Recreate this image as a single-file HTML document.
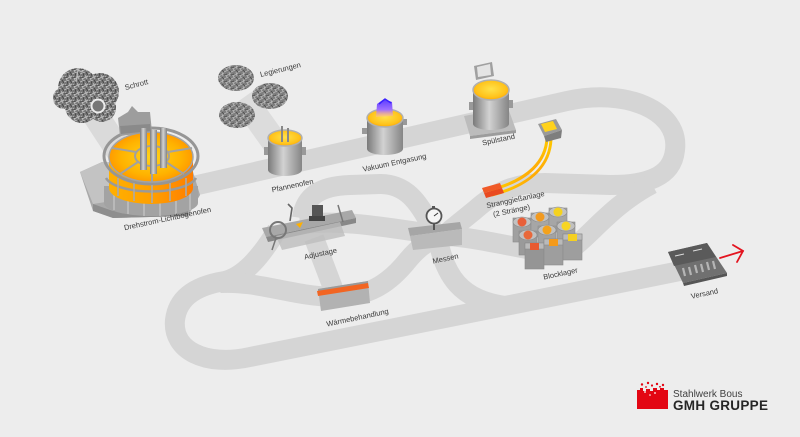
<!DOCTYPE html>
<html>
<head>
<meta charset="utf-8">
<style>
  html,body{margin:0;padding:0;background:#ededed;}
  svg{display:block;}
  .lbl{font-family:"Liberation Sans",sans-serif;font-size:7.5px;fill:#3a3a3a;text-anchor:middle;}
</style>
</head>
<body>
<svg width="800" height="437" viewBox="0 0 800 437" xmlns="http://www.w3.org/2000/svg">
  <defs>
    <pattern id="scrap" width="8" height="8" patternUnits="userSpaceOnUse">
      <rect width="8" height="8" fill="#787878"/>
      <path d="M0 2 L5 0 M2 7 L8 4 M1 4 L3 8 M5 3 L7 7" stroke="#c4c4c4" stroke-width="0.8"/>
      <path d="M0 6 L4 5 M6 0 L8 3 M3 1 L4 4" stroke="#404040" stroke-width="0.8"/>
    </pattern>
    <pattern id="scrap2" width="7" height="7" patternUnits="userSpaceOnUse">
      <rect width="7" height="7" fill="#7e7e7e"/>
      <path d="M0 2 L4 0 M2 6 L7 3 M1 4 L3 7 M5 2 L6 6" stroke="#bdbdbd" stroke-width="0.7"/>
      <path d="M0 5 L3 4 M5 0 L7 2" stroke="#444" stroke-width="0.7"/>
    </pattern>
    <linearGradient id="steel" x1="0" x2="1" y1="0" y2="0">
      <stop offset="0" stop-color="#7a7a7a"/>
      <stop offset="0.45" stop-color="#d2d2d2"/>
      <stop offset="1" stop-color="#858585"/>
    </linearGradient>
    <radialGradient id="melt" cx="0.5" cy="0.45" r="0.6">
      <stop offset="0" stop-color="#ffe24a"/>
      <stop offset="0.7" stop-color="#ffc21a"/>
      <stop offset="1" stop-color="#ff9e00"/>
    </radialGradient>
    <radialGradient id="furnTop" cx="0.5" cy="0.5" r="0.6">
      <stop offset="0" stop-color="#ffd21c"/>
      <stop offset="0.6" stop-color="#ffb300"/>
      <stop offset="1" stop-color="#ff8a00"/>
    </radialGradient>
    <linearGradient id="furnSide" x1="0" x2="1">
      <stop offset="0" stop-color="#ffb000"/>
      <stop offset="0.5" stop-color="#ffa000"/>
      <stop offset="1" stop-color="#ff7e00"/>
    </linearGradient>
    <linearGradient id="stream" x1="0" y1="0" x2="1" y2="1">
      <stop offset="0" stop-color="#ffe600"/>
      <stop offset="0.6" stop-color="#ffc000"/>
      <stop offset="1" stop-color="#ff5a20"/>
    </linearGradient>
    <linearGradient id="vac" x1="0" y1="0" x2="0" y2="1">
      <stop offset="0" stop-color="#5a3cff"/>
      <stop offset="0.6" stop-color="#a070ff"/>
      <stop offset="1" stop-color="#ffb0c0" stop-opacity="0.3"/>
    </linearGradient>
  </defs>

  <rect width="800" height="437" fill="#ededed"/>

  <!-- feeder shadow bands -->
  <path d="M92 110 L130 168" stroke="#dadada" stroke-width="26" fill="none"/>
  <path d="M243 98 L280 150" stroke="#dcdcdc" stroke-width="26" fill="none"/>

  <!-- tracks -->
  <g stroke="#d5d5d5" stroke-width="20" fill="none">
    <path d="M180 189 L567 101 C625 88 680 110 675 150 C672 178 645 185 610 185 L545 183 C515 183 495 192 475 210 L438 240"/>
    <path d="M570 250 C590 236 612 205 652 184"/>
    <path d="M438 235 C470 237 500 244 532 250"/>
    <path d="M438 240 C445 275 460 300 505 306"/>
    <path d="M685 270 L250 357 C205 367 172 350 175 320 C178 295 200 285 225 281 C245 276 262 255 277 230"/>
    <path d="M220 283 C260 281 290 296 335 297 C372 297 392 280 408 260 C418 248 428 240 440 237"/>
    <path d="M300 224 C350 219 392 229 440 235"/>
    <path d="M302 218 C305 196 320 186 350 185 L380 184 C405 184 418 200 432 228"/>
    <path d="M314 238 L336 296"/>
  </g>

  <!-- Schrott pile -->
  <g fill="url(#scrap)">
    <circle cx="78" cy="88" r="20"/>
    <circle cx="100" cy="92" r="19"/>
    <circle cx="82" cy="106" r="17"/>
    <circle cx="102" cy="108" r="14"/>
    <circle cx="64" cy="98" r="11"/>
  </g>
  <path d="M76 82 L78 70 L82 72" stroke="#bbb" stroke-width="1.2" fill="none"/>
  <circle cx="98" cy="106" r="6.5" fill="#777" stroke="#ececec" stroke-width="2"/>

  <!-- Legierungen piles -->
  <g fill="url(#scrap2)">
    <ellipse cx="236" cy="78" rx="18" ry="13"/>
    <ellipse cx="270" cy="96" rx="18" ry="13"/>
    <ellipse cx="237" cy="115" rx="18" ry="13"/>
  </g>

  <!-- Furnace -->
  <g>
    <polygon points="80,172 102,162 190,162 200,195 188,216 113,218 93,211" fill="#a9a9a9"/>
    <polygon points="80,172 102,162 118,162 118,200 93,204" fill="#c3c3c3"/>
    <polygon points="93,204 93,211 113,218 188,216 188,209 113,211" fill="#8e8e8e"/>
    <path d="M104 186 L104 203 A47 13 0 0 0 198 203 L198 186 Z" fill="#a3a3a3"/>
    <g stroke="#cfcfcf" stroke-width="1">
      <line x1="114" y1="192" x2="114" y2="210"/><line x1="128" y1="195" x2="128" y2="214"/>
      <line x1="144" y1="196" x2="144" y2="216"/><line x1="160" y1="196" x2="160" y2="216"/>
      <line x1="176" y1="195" x2="176" y2="214"/><line x1="190" y1="192" x2="190" y2="210"/>
    </g>
    <path d="M109 157 L109 188 A42 16 0 0 0 193 188 L193 157 Z" fill="url(#furnSide)"/>
    <ellipse cx="151" cy="157" rx="42" ry="25" fill="url(#furnTop)"/>
    <ellipse cx="151" cy="156" rx="47" ry="28" fill="none" stroke="#969696" stroke-width="3"/>
    <ellipse cx="151" cy="157" rx="42" ry="25" fill="none" stroke="#a4a4a4" stroke-width="1.5"/>
    <ellipse cx="152" cy="156" rx="17" ry="10" fill="none" stroke="#a0a0a0" stroke-width="2"/>
    <g stroke="#a2a2a2" stroke-width="2">
      <line x1="152" y1="166" x2="152" y2="182"/>
      <line x1="138" y1="162" x2="120" y2="174"/>
      <line x1="166" y1="162" x2="184" y2="174"/>
      <line x1="136" y1="152" x2="112" y2="148"/>
      <line x1="168" y1="152" x2="192" y2="148"/>
    </g>
    <path d="M106 178 A46 17 0 0 0 196 178" fill="none" stroke="#9a9a9a" stroke-width="2.5"/>
    <g stroke="#aaaaaa" stroke-width="1.6">
      <line x1="118" y1="178" x2="118" y2="196"/><line x1="134" y1="183" x2="134" y2="201"/>
      <line x1="152" y1="185" x2="152" y2="203"/><line x1="170" y1="183" x2="170" y2="201"/>
      <line x1="186" y1="178" x2="186" y2="196"/>
    </g>
    <polygon points="118,118 128,112 132,106 138,112 150,112 152,132 120,136" fill="#9d9d9d"/>
    <polygon points="120,126 150,124 151,131 121,134" fill="#8a8a8a"/>
    <rect x="140" y="128" width="7" height="42" fill="url(#steel)"/>
    <rect x="150" y="130" width="7" height="44" fill="url(#steel)"/>
    <rect x="160" y="128" width="7" height="40" fill="url(#steel)"/>
  </g>

  <!-- Pfannenofen ladle -->
  <g>
    <rect x="264" y="147" width="4" height="8" fill="#999"/>
    <rect x="302" y="147" width="4" height="8" fill="#999"/>
    <path d="M268 138 L268 170 A17 6 0 0 0 302 170 L302 138 Z" fill="url(#steel)"/>
    <ellipse cx="285" cy="138" rx="17" ry="8" fill="url(#melt)" stroke="#b0b0b0" stroke-width="1.5"/>
    <line x1="282" y1="126" x2="282" y2="142" stroke="#888" stroke-width="2"/>
    <line x1="288" y1="128" x2="288" y2="142" stroke="#888" stroke-width="2"/>
  </g>

  <!-- Vakuum Entgasung ladle -->
  <g>
    <rect x="362" y="128" width="5" height="6" fill="#999"/>
    <rect x="402" y="119" width="5" height="6" fill="#999"/>
    <path d="M367 118 L367 149 A18 6 0 0 0 403 149 L403 118 Z" fill="url(#steel)"/>
    <ellipse cx="385" cy="118" rx="18" ry="9" fill="url(#melt)" stroke="#b0b0b0" stroke-width="1.5"/>
    <path d="M376 117 L377 104 L384 99 L392 102 L393 116 Z" fill="url(#vac)"/>
    <path d="M379 104 L385 99 L391 103" stroke="#3a20ff" stroke-width="1.5" fill="none"/>
  </g>

  <!-- Spülstand -->
  <g>
    <polygon points="464,116 508,108 516,130 470,136" fill="#bcbcbc"/>
    <polygon points="470,136 516,130 516,133 470,139" fill="#9c9c9c"/>
    <rect x="469" y="102" width="4" height="8" fill="#999"/>
    <rect x="509" y="100" width="4" height="8" fill="#999"/>
    <path d="M473 90 L473 124 A18 6 0 0 0 509 124 L509 90 Z" fill="url(#steel)"/>
    <ellipse cx="491" cy="90" rx="18" ry="10" fill="url(#melt)" stroke="#b0b0b0" stroke-width="1.5"/>
    <polygon points="474,66 492,62 494,76 476,80" fill="#a0a0a0"/>
    <polygon points="477,67 490,64 491,75 478,77" fill="#e4e4e4"/>
  </g>

  <!-- Stranggießanlage -->
  <g>
    <path d="M547 138 C546 160 530 180 490 190" stroke="url(#stream)" stroke-width="3" fill="none"/>
    <path d="M551 139 C550 163 534 184 492 195" stroke="url(#stream)" stroke-width="3" fill="none"/>
    <polygon points="482,188 500,183 502,188 484,193" fill="#f05a28"/>
    <polygon points="484,193 502,188 504,193 486,198" fill="#e94a20"/>
    <polygon points="538,124 556,119 562,130 544,136" fill="#9a9a9a"/>
    <polygon points="541,124 553,121 557,129 545,132" fill="#ffd21c"/>
    <polygon points="544,136 562,130 561,138 546,142" fill="#7e7e7e"/>
  </g>

  <!-- Adjustage -->
  <g>
    <polygon points="262,228 352,210 356,218 266,237" fill="#a8a8a8"/>
    <polygon points="266,237 356,218 356,223 268,242" fill="#888"/>
    <polygon points="276,236 340,222 345,236 282,250" fill="#bdbdbd" opacity="0.8"/>
    <circle cx="278" cy="230" r="8" fill="none" stroke="#777" stroke-width="2"/>
    <line x1="276" y1="238" x2="272" y2="250" stroke="#777" stroke-width="1.5"/>
    <path d="M290 221 L292 208 L288 204" stroke="#666" stroke-width="1.6" fill="none"/>
    <rect x="312" y="205" width="11" height="16" fill="#555"/>
    <rect x="309" y="216" width="16" height="5" fill="#444"/>
    <polygon points="296,224 303,222 300,228" fill="#ffb000"/>
    <line x1="338" y1="205" x2="343" y2="222" stroke="#777" stroke-width="1.5"/>
  </g>

  <!-- Messen -->
  <g>
    <polygon points="408,228 460,222 462,229 410,236" fill="#a6a6a6"/>
    <polygon points="410,236 462,229 462,245 413,250" fill="#bababa"/>
    <line x1="434" y1="224" x2="434" y2="230" stroke="#555" stroke-width="2"/>
    <circle cx="434" cy="216" r="7.5" fill="#f5f5f5" stroke="#555" stroke-width="1.8"/>
    <line x1="434" y1="216" x2="438" y2="213" stroke="#333" stroke-width="1"/>
    <rect x="432" y="206" width="3" height="3" fill="#555"/>
  </g>

  <!-- Wärmebehandlung -->
  <g>
    <polygon points="318,289 368,281 370,303 321,311" fill="#b2b2b2"/>
    <polygon points="318,289 368,281 368,284 318,292" fill="#9a9a9a"/>
    <polygon points="317,291 368,283 369,288 318,296" fill="#f26522"/>
  </g>

  <!-- Blocklager -->
  <g stroke="#8a8a8a" stroke-width="0.6">
    <!-- row 1 -->
    <rect x="513" y="218" width="18" height="24" fill="#a0a0a0"/><ellipse cx="522" cy="222" rx="9" ry="5" fill="#c2c2c2"/><circle cx="522" cy="222" r="4.5" fill="#e8603a" stroke="none"/>
    <rect x="531" y="213" width="18" height="24" fill="#a6a6a6"/><ellipse cx="540" cy="217" rx="9" ry="5" fill="#c2c2c2"/><circle cx="540" cy="217" r="4.5" fill="#f29a1f" stroke="none"/>
    <rect x="549" y="208" width="18" height="24" fill="#a6a6a6"/><ellipse cx="558" cy="212" rx="9" ry="5" fill="#c2c2c2"/><circle cx="558" cy="212" r="4.5" fill="#f5d21e" stroke="none"/>
    <!-- row 2 -->
    <rect x="519" y="231" width="18" height="24" fill="#9a9a9a"/><ellipse cx="528" cy="235" rx="9" ry="5" fill="#c0c0c0"/><circle cx="528" cy="235" r="4.5" fill="#e8683a" stroke="none"/>
    <rect x="538" y="226" width="18" height="24" fill="#a2a2a2"/><ellipse cx="547" cy="230" rx="9" ry="5" fill="#c0c0c0"/><circle cx="547" cy="230" r="4.5" fill="#f4a21c" stroke="none"/>
    <rect x="557" y="222" width="18" height="24" fill="#a2a2a2"/><ellipse cx="566" cy="226" rx="9" ry="5" fill="#c0c0c0"/><circle cx="566" cy="226" r="4.5" fill="#f7d523" stroke="none"/>
    <!-- row 3 -->
    <rect x="525" y="243" width="19" height="26" fill="#959595"/><rect x="525" y="243" width="19" height="6" fill="#bababa"/><rect x="530" y="243" width="9" height="7" fill="#e85a30" stroke="none"/>
    <rect x="544" y="239" width="19" height="26" fill="#9e9e9e"/><rect x="544" y="239" width="19" height="6" fill="#bababa"/><rect x="549" y="239" width="9" height="7" fill="#f59a1a" stroke="none"/>
    <rect x="563" y="234" width="19" height="26" fill="#9e9e9e"/><rect x="563" y="234" width="19" height="6" fill="#bababa"/><rect x="568" y="234" width="9" height="7" fill="#f5d020" stroke="none"/>
  </g>

  <!-- Versand -->
  <g>
    <polygon points="668,252 707,243 727,273 683,283" fill="#707070"/>
    <polygon points="668,252 707,243 716,257 674,266" fill="#5a5a5a"/>
    <line x1="675" y1="256" x2="684" y2="254" stroke="#ddd" stroke-width="1"/>
    <line x1="693" y1="251" x2="702" y2="249" stroke="#ddd" stroke-width="1"/>
    <g stroke="#b5b5b5" stroke-width="2.2">
      <line x1="683" y1="268" x2="685" y2="276"/>
      <line x1="689" y1="267" x2="691" y2="275"/>
      <line x1="695" y1="265" x2="697" y2="273"/>
      <line x1="701" y1="264" x2="703" y2="272"/>
      <line x1="707" y1="262" x2="709" y2="270"/>
      <line x1="713" y1="261" x2="715" y2="269"/>
    </g>
    <polygon points="683,283 727,273 727,276 684,286" fill="#555"/>
    <g stroke="#e3141f" stroke-width="1.8" fill="none" stroke-linecap="round">
      <line x1="720" y1="258" x2="743" y2="251"/>
      <path d="M733 245 L743 251 L737 262"/>
    </g>
  </g>

  <!-- labels -->
  <text class="lbl" transform="translate(137,87) rotate(-15)">Schrott</text>
  <text class="lbl" transform="translate(281,72) rotate(-14)">Legierungen</text>
  <text class="lbl" transform="translate(168,221) rotate(-12)">Drehstrom-Lichtbogenofen</text>
  <text class="lbl" transform="translate(293,188) rotate(-12)">Pfannenofen</text>
  <text class="lbl" transform="translate(395,165) rotate(-12)">Vakuum Entgasung</text>
  <text class="lbl" transform="translate(499,142) rotate(-12)">Spülstand</text>
  <text class="lbl" transform="translate(516,202) rotate(-12)">Stranggießanlage</text>
  <text class="lbl" transform="translate(512,213) rotate(-12)">(2 Stränge)</text>
  <text class="lbl" transform="translate(321,256) rotate(-12)">Adjustage</text>
  <text class="lbl" transform="translate(446,261) rotate(-12)">Messen</text>
  <text class="lbl" transform="translate(358,320) rotate(-12)">Wärmebehandlung</text>
  <text class="lbl" transform="translate(561,276) rotate(-12)">Blocklager</text>
  <text class="lbl" transform="translate(705,296) rotate(-12)">Versand</text>

  <!-- logo -->
  <g>
    <path d="M637 390 L640 390 L640 388 L643 388 L643 391 L646 391 L646 389 L650 389 L650 391 L653 391 L653 388 L657 388 L657 390 L660 390 L660 388 L664 388 L664 390 L668 390 L668 409 L637 409 Z" fill="#e30613"/>
    <g fill="#e30613">
      <circle cx="642" cy="384.5" r="1.2"/><circle cx="648" cy="383" r="1.2"/><circle cx="652" cy="385.5" r="1.1"/>
      <circle cx="657" cy="384" r="1.2"/><circle cx="663" cy="385" r="1.2"/><circle cx="646" cy="387" r="0.9"/>
      <circle cx="660" cy="386.8" r="0.9"/>
    </g>
    <g fill="#ffffff">
      <circle cx="645" cy="392" r="0.9"/><circle cx="655" cy="393" r="0.9"/><circle cx="650" cy="395" r="0.8"/>
    </g>
    <text x="673" y="397" style="font-family:'Liberation Sans',sans-serif;font-size:10px;fill:#3f3f3f;">Stahlwerk Bous</text>
    <text x="673" y="410" style="font-family:'Liberation Sans',sans-serif;font-size:13.5px;font-weight:bold;fill:#262626;letter-spacing:0.3px;">GMH GRUPPE</text>
  </g>
</svg>
</body>
</html>
